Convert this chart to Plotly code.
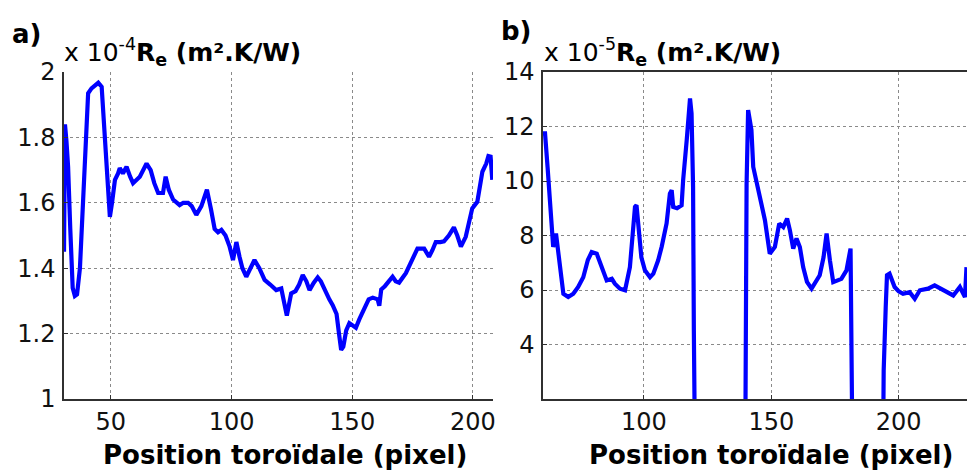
import plotly.graph_objects as go

# ---- panel a) ----
pos_a = [30.6, 31.0, 31.6, 32.3, 33.2, 34.2, 35.1, 36.0, 37.2, 38.6, 40.0, 40.6, 42.0, 43.5, 44.8,
         46.2, 46.8, 48.0, 49.6, 50.5, 51.7, 53.0, 53.7, 55.0, 56.5, 58.0, 59.2, 62.0, 64.8, 66.5,
         68.0, 69.6, 71.6, 72.7, 74.0, 75.8, 78.5, 80.0, 82.0, 83.5, 85.4, 87.5, 89.8, 91.5, 93.0,
         94.4, 95.8, 97.5, 99.2, 100.6, 101.3, 102.0, 103.3, 104.5, 106.1, 107.8, 109.5, 111.5,
         113.7, 116.0, 118.5, 120.6, 121.8, 122.9, 124.7, 126.5, 128.0, 129.5, 131.0, 132.3, 134.0,
         135.7, 137.0, 138.5, 140.5, 141.9, 143.5, 144.5, 145.4, 146.3, 147.5, 148.8, 150.0, 151.5,
         153.0, 155.0, 156.8, 158.5, 160.5, 161.2, 162.0, 163.5, 166.7, 168.0, 169.4, 172.2, 174.5,
         177.0, 179.8, 181.8, 183.2, 184.6, 186.5, 188.0, 190.0, 192.1, 193.5, 195.0, 197.0, 199.7,
         201.8, 203.9, 205.5, 206.4, 207.3, 208.0]
re_a = [1.45, 1.84, 1.79, 1.71, 1.52, 1.34, 1.315, 1.32, 1.40, 1.63, 1.88, 1.935, 1.95, 1.96, 1.967,
        1.955, 1.88, 1.72, 1.557, 1.60, 1.67, 1.69, 1.706, 1.69, 1.71, 1.68, 1.66, 1.68, 1.72, 1.70,
        1.66, 1.63, 1.63, 1.68, 1.64, 1.61, 1.593, 1.60, 1.60, 1.59, 1.563, 1.59, 1.64, 1.58, 1.52,
        1.51, 1.517, 1.50, 1.466, 1.425, 1.46, 1.48, 1.435, 1.40, 1.374, 1.40, 1.425, 1.40,
        1.364, 1.35, 1.333, 1.338, 1.30, 1.255, 1.323, 1.33, 1.35, 1.379, 1.36, 1.333, 1.355,
        1.372, 1.36, 1.333, 1.305, 1.287, 1.26, 1.20, 1.15, 1.16, 1.21, 1.232, 1.225, 1.218,
        1.245, 1.28, 1.305, 1.31, 1.305, 1.285, 1.335, 1.345, 1.374, 1.36, 1.356, 1.385, 1.42,
        1.46, 1.46, 1.435, 1.455, 1.48, 1.48, 1.482, 1.50, 1.525, 1.50, 1.466, 1.496, 1.583,
        1.603, 1.695, 1.72, 1.743, 1.741, 1.67]

# ---- panel b) ----
pos_b = [60.4, 61.2, 62.2, 63.2, 63.8, 64.4, 65.5, 66.4, 67.4, 68.4, 70.3, 72.3, 74.2, 76.2, 78.0,
         79.5, 81.5, 83.4, 85.4, 87.4, 88.6, 90.6, 92.6, 94.5, 96.5, 97.1, 97.8, 99.0, 100.4, 102.4,
         103.7, 105.6, 107.0, 108.9, 110.2, 110.9, 111.5, 113.0, 114.8, 115.4, 116.8, 118.1, 118.7,
         119.3, 119.6, 120.0, 139.8, 140.0, 140.3, 140.9, 142.2, 142.9, 144.8, 146.0, 147.5, 149.4,
         151.4, 153.1, 154.7, 156.2, 157.3, 158.6, 159.9, 161.2, 162.5, 164.0, 165.8, 169.0, 170.5,
         171.7, 173.0, 174.3, 177.5, 179.5, 181.1, 181.5, 181.8, 193.9, 194.1, 194.9, 195.4, 196.4,
         198.4, 200.0, 201.7, 204.3, 206.3, 208.3, 211.5, 214.1, 217.4, 221.4, 224.0, 226.0, 226.6]
re_b = [11.75, 11.75, 10.5, 9.0, 8.19, 7.58, 8.07, 7.46, 6.6, 5.86, 5.74, 5.86, 6.11, 6.47, 7.1,
        7.39, 7.33, 6.90, 6.35, 6.41, 6.23, 6.05, 5.99, 6.84, 9.05, 9.11, 8.31, 7.2, 6.72, 6.47,
        6.6, 7.09, 7.6, 8.44, 9.54, 9.66, 9.05, 9.0, 9.11, 10.03, 11.5, 13.03, 12.48,
        9.78, 4.51, 0.5, 0.5, 4.64, 9.9, 12.6, 11.87, 10.52, 9.78, 9.2, 8.56, 7.33,
        7.58, 8.44, 8.31, 8.62, 8.19, 7.52, 7.89, 7.58, 6.84, 6.3, 6.05, 6.54, 7.2,
        8.07, 7.09, 6.29, 6.41, 6.72, 7.52, 3.41, 0.5, 0.5, 3.04, 5.37, 6.54, 6.6,
        6.11, 5.95, 5.86, 5.92, 5.68, 5.99, 6.05, 6.17, 5.99, 5.80, 6.11, 5.74, 6.84]

ticks_ya = [1, 1.2, 1.4, 1.6, 1.8, 2]
ticks_xa = [50, 100, 150, 200]
ticks_yb = [4, 6, 8, 10, 12, 14]
ticks_xb = [100, 150, 200]

W, H = 967, 471
FONT = "DejaVu Sans"
BLUE = "#0000FF"
AX = "#303030"
GRID = "#8a8a8a"

fig = go.Figure()
fig.add_trace(go.Scatter(x=pos_a, y=re_a, mode="lines", line=dict(color=BLUE, width=4.2),
                         xaxis="x", yaxis="y", showlegend=False))
fig.add_trace(go.Scatter(x=pos_b, y=re_b, mode="lines", line=dict(color=BLUE, width=4.2),
                         xaxis="x2", yaxis="y2", showlegend=False))

ydom = [72 / H, 399 / H]
common = dict(showgrid=True, gridcolor=GRID, griddash="dot", gridwidth=1, zeroline=False,
              showline=True, linecolor=AX, linewidth=1.5, ticks="inside", ticklen=4,
              tickcolor=AX, automargin=False,
              tickfont=dict(family=FONT, size=24, color="#111"))

fig.update_layout(
    template="none",
    width=W, height=H, margin=dict(l=0, r=0, t=0, b=0, pad=0, autoexpand=False),
    paper_bgcolor="white", plot_bgcolor="white",
    xaxis=dict(domain=[64 / W, 493 / W], range=[30.6, 208.3], tickvals=ticks_xa,
               anchor="y", ticklabelstandoff=0, **common),
    yaxis=dict(domain=ydom, range=[1, 2], tickvals=ticks_ya, anchor="x",
               ticklabelstandoff=2, **common),
    xaxis2=dict(domain=[543 / W, 1.0], range=[60.4, 226.8], tickvals=ticks_xb,
                anchor="y2", mirror=True, ticklabelstandoff=0, **common),
    yaxis2=dict(domain=ydom, range=[2, 14], tickvals=ticks_yb, anchor="x2",
                ticklabelstandoff=2, **common),
)

def px(x, y):
    return x / W, 1 - y / H

annots = [
    ("<b>a)</b>", 10, 34, "left", 26),
    ("<b>b)</b>", 499, 31, "left", 26),
    ("x 10<sup>-4</sup><b>R<sub>e</sub> (m².K/W)</b>", 62, 52, "left", 25),
    ("x 10<sup>-5</sup><b>R<sub>e</sub> (m².K/W)</b>", 542, 52, "left", 25),
    ("<b>Position toroïdale (pixel)</b>", 285, 455, "center", 26),
    ("<b>Position toroïdale (pixel)</b>", 771, 455, "center", 26),
]
for text, x, y, xa, size in annots:
    ax_, ay_ = px(x, y)
    fig.add_annotation(text=text, x=ax_, y=ay_, xref="paper", yref="paper",
                       xanchor=xa, yanchor="middle", showarrow=False,
                       font=dict(family=FONT, size=size, color="black"))

fig.write_html("out.html", config={"displayModeBar": False},
               post_script="document.body.style.margin='0';document.body.style.overflow='hidden';")
